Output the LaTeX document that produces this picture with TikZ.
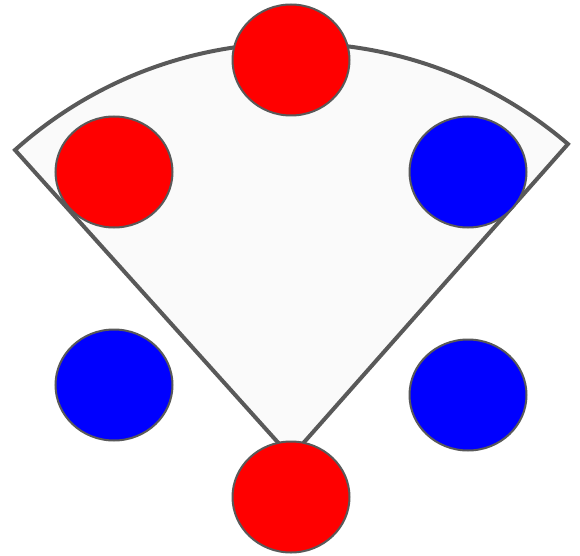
\documentclass[tikz,border=0pt]{standalone}
\usetikzlibrary{shapes.geometric}
\definecolor{edgegray}{HTML}{595959}
\definecolor{fillgray}{HTML}{FAFAFA}
\tikzset{
  x=1pt,y=1pt,
  sector/.style={draw=edgegray,fill=fillgray,line width=4pt,line join=miter},
  ball/.style={ellipse,draw=edgegray,line width=2pt,minimum width=117pt,minimum height=111pt,inner sep=0pt},
  redball/.style={ball,fill=red},
  blueball/.style={ball,fill=blue}
}
\begin{document}
\begin{tikzpicture}
\useasboundingbox (0,0) rectangle (580,555);
\coordinate (apex) at (291,98);
\coordinate (lend) at (15,405);
\draw[sector] (apex) -- (lend) arc[start angle=131.84,end angle=49.4,radius=419.6] -- cycle;
\node[redball] (top) at (291,495) {};
\node[redball] (lr) at (114,383) {};
\node[blueball] (rb) at (468,383) {};
\node[blueball] (lb) at (114,170) {};
\node[blueball] (rb2) at (468,160) {};
\node[redball] (bot) at (291,58) {};
\end{tikzpicture}
\end{document}
